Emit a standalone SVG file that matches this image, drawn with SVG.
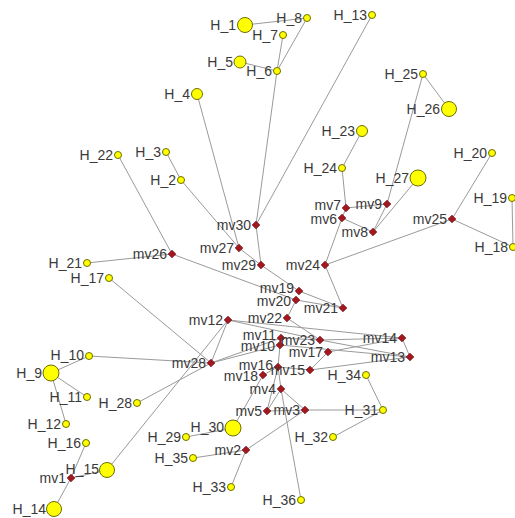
<svg xmlns="http://www.w3.org/2000/svg" xmlns:xlink="http://www.w3.org/1999/xlink" width="515" height="518" viewBox="0 0 515 518">
<style>
.e line{stroke:#9a9a9a;stroke-width:1;fill:none}
.h{fill:#ffff00;stroke:#6e6e00;stroke-width:1}
.m{fill:#a3181f;stroke:#7a1016;stroke-width:0.8}
text{font-family:"Liberation Sans",Arial,sans-serif;font-size:14px;fill:#3a3a3a;text-anchor:end}
</style>
<defs>
<path id="dm" d="M0,-3.8 L3.8,0 L0,3.8 L-3.8,0Z"/>
</defs>
<rect width="515" height="518" fill="#ffffff"/>
<g class="e" id="connectors">
<line x1="245" y1="25" x2="307" y2="18"/>
<line x1="307" y1="18" x2="277" y2="71"/>
<line x1="283" y1="35" x2="277" y2="71"/>
<line x1="240" y1="62" x2="277" y2="71"/>
<line x1="277" y1="71" x2="256" y2="225"/>
<line x1="372" y1="15" x2="256" y2="225"/>
<line x1="256" y1="225" x2="261" y2="265"/>
<line x1="197" y1="94" x2="239" y2="248"/>
<line x1="166" y1="152" x2="181" y2="180"/>
<line x1="181" y1="180" x2="239" y2="248"/>
<line x1="239" y1="248" x2="261" y2="265"/>
<line x1="261" y1="265" x2="299" y2="291"/>
<line x1="118" y1="155" x2="172" y2="254"/>
<line x1="87" y1="263" x2="172" y2="254"/>
<line x1="172" y1="254" x2="296" y2="300"/>
<line x1="299" y1="291" x2="343" y2="308"/>
<line x1="296" y1="300" x2="343" y2="308"/>
<line x1="296" y1="300" x2="287" y2="318"/>
<line x1="343" y1="308" x2="325" y2="265"/>
<line x1="325" y1="265" x2="342" y2="218"/>
<line x1="325" y1="265" x2="452" y2="219"/>
<line x1="452" y1="219" x2="492" y2="153"/>
<line x1="452" y1="219" x2="513" y2="247"/>
<line x1="512" y1="198" x2="513" y2="247"/>
<line x1="342" y1="218" x2="346" y2="208"/>
<line x1="346" y1="208" x2="342" y2="168"/>
<line x1="342" y1="168" x2="362" y2="131"/>
<line x1="346" y1="208" x2="387" y2="204"/>
<line x1="342" y1="218" x2="373" y2="232"/>
<line x1="387" y1="204" x2="373" y2="232"/>
<line x1="423" y1="74" x2="387" y2="204"/>
<line x1="423" y1="74" x2="449" y2="109"/>
<line x1="418" y1="178" x2="373" y2="232"/>
<line x1="228" y1="320" x2="402" y2="338"/>
<line x1="228" y1="320" x2="320" y2="340"/>
<line x1="320" y1="340" x2="410" y2="357"/>
<line x1="287" y1="318" x2="320" y2="340"/>
<line x1="281" y1="338" x2="320" y2="340"/>
<line x1="320" y1="340" x2="402" y2="338"/>
<line x1="402" y1="338" x2="410" y2="357"/>
<line x1="280" y1="345" x2="410" y2="357"/>
<line x1="328" y1="352" x2="402" y2="338"/>
<line x1="328" y1="352" x2="310" y2="370"/>
<line x1="310" y1="370" x2="410" y2="357"/>
<line x1="211" y1="363" x2="281" y2="338"/>
<line x1="211" y1="363" x2="280" y2="345"/>
<line x1="211" y1="363" x2="228" y2="320"/>
<line x1="211" y1="363" x2="109" y2="278"/>
<line x1="211" y1="363" x2="89" y2="356"/>
<line x1="211" y1="363" x2="137" y2="403"/>
<line x1="107" y1="470" x2="228" y2="320"/>
<line x1="51" y1="373" x2="89" y2="356"/>
<line x1="51" y1="373" x2="87" y2="397"/>
<line x1="51" y1="373" x2="66" y2="424"/>
<line x1="86" y1="443" x2="71" y2="478"/>
<line x1="71" y1="478" x2="54" y2="509"/>
<line x1="71" y1="478" x2="107" y2="470"/>
<line x1="278" y1="367" x2="263" y2="375"/>
<line x1="278" y1="367" x2="310" y2="370"/>
<line x1="278" y1="367" x2="281" y2="389"/>
<line x1="278" y1="367" x2="280" y2="345"/>
<line x1="278" y1="367" x2="267" y2="411"/>
<line x1="263" y1="375" x2="233" y2="428"/>
<line x1="281" y1="389" x2="267" y2="411"/>
<line x1="281" y1="389" x2="305" y2="410"/>
<line x1="267" y1="411" x2="305" y2="410"/>
<line x1="281" y1="389" x2="301" y2="500"/>
<line x1="305" y1="410" x2="383" y2="410"/>
<line x1="305" y1="410" x2="246" y2="450"/>
<line x1="246" y1="450" x2="193" y2="458"/>
<line x1="246" y1="450" x2="231" y2="487"/>
<line x1="383" y1="410" x2="366" y2="375"/>
<line x1="383" y1="410" x2="333" y2="437"/>
<line x1="186" y1="437" x2="233" y2="428"/>
</g>
<g id="H_1"><circle class="h" cx="245" cy="25" r="7.5"/><text x="236" y="30">H_1</text></g>
<g id="H_8"><circle class="h" cx="307" cy="18" r="3.5"/><text x="302" y="23">H_8</text></g>
<g id="H_7"><circle class="h" cx="283" cy="35" r="3.5"/><text x="278" y="40">H_7</text></g>
<g id="H_13"><circle class="h" cx="372" cy="15" r="3.5"/><text x="367" y="20">H_13</text></g>
<g id="H_5"><circle class="h" cx="240" cy="62" r="6"/><text x="233" y="67">H_5</text></g>
<g id="H_6"><circle class="h" cx="277" cy="71" r="3.5"/><text x="272" y="76">H_6</text></g>
<g id="H_4"><circle class="h" cx="197" cy="94" r="5.5"/><text x="190" y="99">H_4</text></g>
<g id="H_25"><circle class="h" cx="423" cy="74" r="3.5"/><text x="418" y="79">H_25</text></g>
<g id="H_26"><circle class="h" cx="449" cy="109" r="7.5"/><text x="440" y="114">H_26</text></g>
<g id="H_23"><circle class="h" cx="362" cy="131" r="5.5"/><text x="355" y="136">H_23</text></g>
<g id="H_24"><circle class="h" cx="342" cy="168" r="3.5"/><text x="337" y="173">H_24</text></g>
<g id="H_27"><circle class="h" cx="418" cy="178" r="8"/><text x="409" y="183">H_27</text></g>
<g id="H_20"><circle class="h" cx="492" cy="153" r="3.5"/><text x="487" y="158">H_20</text></g>
<g id="H_19"><circle class="h" cx="512" cy="198" r="3.5"/><text x="507" y="203">H_19</text></g>
<g id="H_18"><circle class="h" cx="513" cy="247" r="3.5"/><text x="508" y="252">H_18</text></g>
<g id="H_22"><circle class="h" cx="118" cy="155" r="3.5"/><text x="113" y="160">H_22</text></g>
<g id="H_3"><circle class="h" cx="166" cy="152" r="3.5"/><text x="161" y="157">H_3</text></g>
<g id="H_2"><circle class="h" cx="181" cy="180" r="3.5"/><text x="176" y="185">H_2</text></g>
<g id="H_21"><circle class="h" cx="87" cy="263" r="3.5"/><text x="82" y="268">H_21</text></g>
<g id="H_17"><circle class="h" cx="109" cy="278" r="3.5"/><text x="104" y="283">H_17</text></g>
<g id="H_10"><circle class="h" cx="89" cy="356" r="3.5"/><text x="84" y="360">H_10</text></g>
<g id="H_9"><circle class="h" cx="51" cy="373" r="8"/><text x="42" y="378">H_9</text></g>
<g id="H_11"><circle class="h" cx="87" cy="397" r="3.5"/><text x="82" y="402">H_11</text></g>
<g id="H_28"><circle class="h" cx="137" cy="403" r="3.5"/><text x="132" y="408">H_28</text></g>
<g id="H_12"><circle class="h" cx="66" cy="424" r="3.5"/><text x="61" y="429">H_12</text></g>
<g id="H_16"><circle class="h" cx="86" cy="443" r="3.5"/><text x="81" y="448">H_16</text></g>
<g id="H_15"><circle class="h" cx="107" cy="470" r="7.5"/><text x="99" y="474">H_15</text></g>
<g id="H_14"><circle class="h" cx="54" cy="509" r="7.5"/><text x="46" y="514">H_14</text></g>
<g id="H_29"><circle class="h" cx="186" cy="437" r="3.5"/><text x="181" y="442">H_29</text></g>
<g id="H_30"><circle class="h" cx="233" cy="428" r="8"/><text x="224" y="432">H_30</text></g>
<g id="H_35"><circle class="h" cx="193" cy="458" r="3.5"/><text x="188" y="463">H_35</text></g>
<g id="H_33"><circle class="h" cx="231" cy="487" r="3.5"/><text x="226" y="492">H_33</text></g>
<g id="H_36"><circle class="h" cx="301" cy="500" r="3.5"/><text x="296" y="505">H_36</text></g>
<g id="H_32"><circle class="h" cx="333" cy="437" r="3.5"/><text x="328" y="442">H_32</text></g>
<g id="H_31"><circle class="h" cx="383" cy="410" r="3.5"/><text x="378" y="415">H_31</text></g>
<g id="H_34"><circle class="h" cx="366" cy="375" r="3.5"/><text x="361" y="380">H_34</text></g>
<g id="mv30"><use href="#dm" class="m" x="256" y="225"/><text x="251" y="230">mv30</text></g>
<g id="mv27"><use href="#dm" class="m" x="239" y="248"/><text x="234" y="253">mv27</text></g>
<g id="mv29"><use href="#dm" class="m" x="261" y="265"/><text x="256" y="270">mv29</text></g>
<g id="mv26"><use href="#dm" class="m" x="172" y="254"/><text x="167" y="259">mv26</text></g>
<g id="mv24"><use href="#dm" class="m" x="325" y="265"/><text x="320" y="270">mv24</text></g>
<g id="mv7"><use href="#dm" class="m" x="346" y="208"/><text x="341" y="210">mv7</text></g>
<g id="mv6"><use href="#dm" class="m" x="342" y="218"/><text x="337" y="224">mv6</text></g>
<g id="mv9"><use href="#dm" class="m" x="387" y="204"/><text x="382" y="209">mv9</text></g>
<g id="mv8"><use href="#dm" class="m" x="373" y="232"/><text x="368" y="237">mv8</text></g>
<g id="mv25"><use href="#dm" class="m" x="452" y="219"/><text x="447" y="224">mv25</text></g>
<g id="mv19"><use href="#dm" class="m" x="299" y="291"/><text x="294" y="293">mv19</text></g>
<g id="mv20"><use href="#dm" class="m" x="296" y="300"/><text x="291" y="306">mv20</text></g>
<g id="mv21"><use href="#dm" class="m" x="343" y="308"/><text x="338" y="313">mv21</text></g>
<g id="mv22"><use href="#dm" class="m" x="287" y="318"/><text x="282" y="323">mv22</text></g>
<g id="mv12"><use href="#dm" class="m" x="228" y="320"/><text x="223" y="325">mv12</text></g>
<g id="mv11"><use href="#dm" class="m" x="281" y="338"/><text x="276" y="340">mv11</text></g>
<g id="mv10"><use href="#dm" class="m" x="280" y="345"/><text x="275" y="351">mv10</text></g>
<g id="mv23"><use href="#dm" class="m" x="320" y="340"/><text x="315" y="345">mv23</text></g>
<g id="mv14"><use href="#dm" class="m" x="402" y="338"/><text x="397" y="343">mv14</text></g>
<g id="mv13"><use href="#dm" class="m" x="410" y="357"/><text x="405" y="362">mv13</text></g>
<g id="mv17"><use href="#dm" class="m" x="328" y="352"/><text x="323" y="357">mv17</text></g>
<g id="mv28"><use href="#dm" class="m" x="211" y="363"/><text x="206" y="368">mv28</text></g>
<g id="mv16"><use href="#dm" class="m" x="278" y="367"/><text x="273" y="370">mv16</text></g>
<g id="mv15"><use href="#dm" class="m" x="310" y="370"/><text x="305" y="375">mv15</text></g>
<g id="mv18"><use href="#dm" class="m" x="263" y="375"/><text x="258" y="381">mv18</text></g>
<g id="mv4"><use href="#dm" class="m" x="281" y="389"/><text x="276" y="394">mv4</text></g>
<g id="mv5"><use href="#dm" class="m" x="267" y="411"/><text x="262" y="416">mv5</text></g>
<g id="mv3"><use href="#dm" class="m" x="305" y="410"/><text x="300" y="415">mv3</text></g>
<g id="mv2"><use href="#dm" class="m" x="246" y="450"/><text x="241" y="455">mv2</text></g>
<g id="mv1"><use href="#dm" class="m" x="71" y="478"/><text x="66" y="483">mv1</text></g>
</svg>
